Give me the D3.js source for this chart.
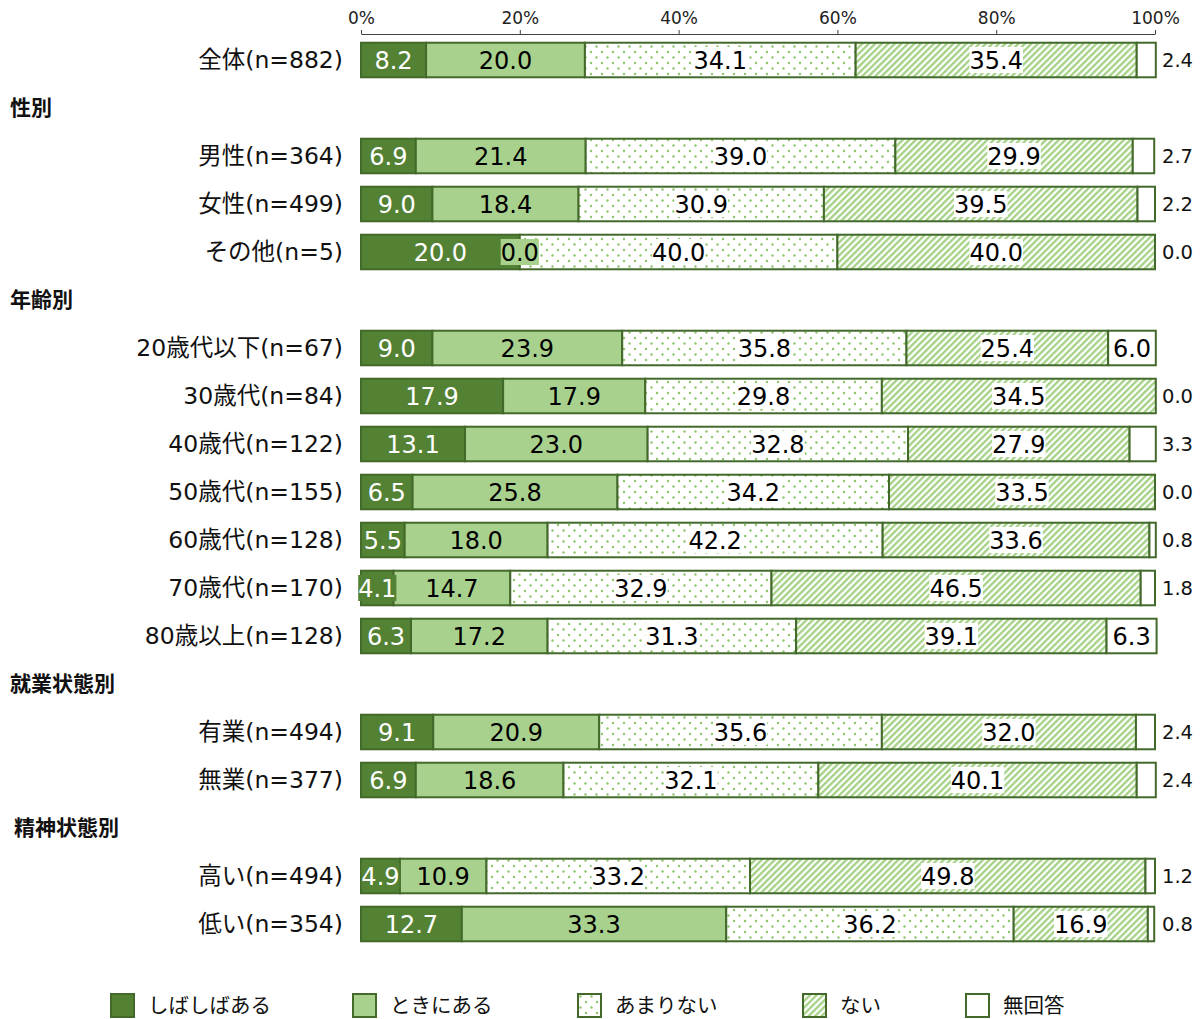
<!DOCTYPE html>
<html>
<head>
<meta charset="utf-8">
<script src="https://cdn.jsdelivr.net/npm/d3@7"></script>
<style>
  body { margin: 0; background: #fff; }
  svg { display: block; font-family: "DejaVu Sans", "Noto Sans CJK JP", sans-serif; }
</style>
</head>
<body>
<svg id="chart" width="1200" height="1019"></svg>
<script>
// slots from top to bottom, section headings included
const slotLabels = [
  '全体(n=882)',
  '性別',
  '男性(n=364)', '女性(n=499)', 'その他(n=5)',
  '年齢別',
  '20歳代以下(n=67)', '30歳代(n=84)', '40歳代(n=122)', '50歳代(n=155)',
  '60歳代(n=128)', '70歳代(n=170)', '80歳以上(n=128)',
  '就業状態別',
  '有業(n=494)', '無業(n=377)',
  '精神状態別',
  '高い(n=494)', '低い(n=354)'
]
const sectionHeaders = ['性別', '年齢別', '就業状態別', '精神状態別']

const categories = slotLabels.filter(d => !sectionHeaders.includes(d))
const shibashiba = [8.2, 6.9, 9.0, 20.0, 9.0, 17.9, 13.1, 6.5, 5.5, 4.1, 6.3, 9.1, 6.9, 4.9, 12.7]
const tokini     = [20.0, 21.4, 18.4, 0.0, 23.9, 17.9, 23.0, 25.8, 18.0, 14.7, 17.2, 20.9, 18.6, 10.9, 33.3]
const amari      = [34.1, 39.0, 30.9, 40.0, 35.8, 29.8, 32.8, 34.2, 42.2, 32.9, 31.3, 35.6, 32.1, 33.2, 36.2]
const nai        = [35.4, 29.9, 39.5, 40.0, 25.4, 34.5, 27.9, 33.5, 33.6, 46.5, 39.1, 32.0, 40.1, 49.8, 16.9]
const mukaitou   = [2.4, 2.7, 2.2, 0.0, 6.0, 0.0, 3.3, 0.0, 0.8, 1.8, 6.3, 2.4, 2.4, 1.2, 0.8]

const seriesNames = ['しばしばある', 'ときにある', 'あまりない', 'ない', '無回答']
const xTicks = [0, 20, 40, 60, 80, 100]

const DARK = '#548235'
const LIGHT = '#a9d18e'
const EDGE = '#43692b'

const keys = ['s0', 's1', 's2', 's3', 's4']
const table = categories.map((c, i) => ({
  cat: c, s0: shibashiba[i], s1: tokini[i], s2: amari[i], s3: nai[i], s4: mukaitou[i]
}))

const svg = d3.select('#chart')

// patterns
const defs = svg.append('defs')
const dots = defs.append('pattern').attr('id', 'dots')
  .attr('patternUnits', 'userSpaceOnUse').attr('width', 11).attr('height', 11)
dots.append('rect').attr('width', 11).attr('height', 11).attr('fill', '#fff')
dots.append('circle').attr('cx', 2.5).attr('cy', 2.5).attr('r', 1.2).attr('fill', '#8cc56c')
dots.append('circle').attr('cx', 8).attr('cy', 8).attr('r', 1.2).attr('fill', '#8cc56c')

const hatch = defs.append('pattern').attr('id', 'hatch')
  .attr('patternUnits', 'userSpaceOnUse').attr('width', 4.6).attr('height', 4.6)
  .attr('patternTransform', 'rotate(45)')
hatch.append('rect').attr('width', 4.6).attr('height', 4.6).attr('fill', '#fff')
hatch.append('line').attr('x1', 1.2).attr('x2', 1.2).attr('y1', 0).attr('y2', 4.6)
  .attr('stroke', '#a3d184').attr('stroke-width', 2.3)

const fills = [DARK, LIGHT, 'url(#dots)', 'url(#hatch)', '#fff']
const labelBg = [DARK, LIGHT, '#fff', '#fff', '#fff']
const labelColor = ['#fff', '#000', '#000', '#000', '#000']

const x = d3.scaleLinear().domain([0, 100]).range([361, 1155])
const y = d3.scaleBand().domain(slotLabels).range([36, 948])
  .paddingInner(0.28).paddingOuter(0.14)

// axis on top
const axis = svg.append('g')
  .attr('transform', 'translate(0,34)')
  .call(d3.axisTop(x).tickValues(xTicks).tickSize(4).tickSizeOuter(0).tickFormat(d => d + '%'))
axis.select('.domain').attr('stroke', '#404040')
axis.selectAll('.tick line').attr('stroke', '#404040')
axis.selectAll('.tick text')
  .attr('font-family', '"DejaVu Sans", sans-serif')
  .attr('font-size', 17).attr('fill', '#222').attr('dy', '-0.15em')

// section headings
svg.append('g').selectAll('text')
  .data(sectionHeaders)
  .join('text')
  .attr('x', d => d === '精神状態別' ? 14 : 10)
  .attr('y', d => y(d) + y.bandwidth() / 2)
  .attr('dy', '0.35em')
  .attr('font-size', 21).attr('font-weight', 'bold').attr('fill', '#111')
  .text(d => d)

// category labels
svg.append('g').selectAll('text')
  .data(categories)
  .join('text')
  .attr('x', 343)
  .attr('y', d => y(d) + y.bandwidth() / 2)
  .attr('dy', '0.36em')
  .attr('text-anchor', 'end')
  .attr('font-size', 23.5).attr('fill', '#111')
  .text(d => d)

const stacked = d3.stack().keys(keys)(table)

const layers = svg.append('g').selectAll('g')
  .data(stacked)
  .join('g')

layers.selectAll('rect')
  .data(d => d)
  .join('rect')
  .attr('x', d => x(d[0]))
  .attr('y', d => y(d.data.cat))
  .attr('width', d => Math.max(0, x(d[1]) - x(d[0])))
  .attr('height', y.bandwidth())
  .attr('fill', (d, i, n) => fills[keys.indexOf(d3.select(n[i].parentNode).datum().key)])
  .attr('stroke', EDGE)
  .attr('stroke-width', 2)

// value labels
const labels = svg.append('g')
stacked.forEach((layer, si) => {
  layer.forEach(d => {
    const v = d[1] - d[0]
    const cy = y(d.data.cat) + y.bandwidth() / 2
    const outside = si === 4 && v < 5
    const g = labels.append('g')
    const t = g.append('text')
      .attr('x', outside ? x(100) + 7 : (x(d[0]) + x(d[1])) / 2)
      .attr('y', cy)
      .attr('dy', '0.36em')
      .attr('text-anchor', outside ? 'start' : 'middle')
      .attr('font-size', outside ? 19.5 : 24)
      .attr('fill', outside ? '#111' : labelColor[si])
      .text(d.data[keys[si]].toFixed(1))
    if (!outside) {
      const b = t.node().getBBox()
      g.insert('rect', 'text')
        .attr('x', b.x).attr('y', cy - 13)
        .attr('width', b.width).attr('height', 26)
        .attr('fill', labelBg[si])
    }
  })
})

// legend
const legendX = [111, 353, 578, 803, 966]
const legend = svg.append('g').selectAll('g')
  .data(seriesNames)
  .join('g')
  .attr('transform', (d, i) => `translate(${legendX[i]},994)`)
legend.append('rect')
  .attr('width', 23).attr('height', 23)
  .attr('fill', (d, i) => fills[i])
  .attr('stroke', EDGE).attr('stroke-width', 2)
legend.append('text')
  .attr('x', 37).attr('y', 11.5).attr('dy', '0.36em')
  .attr('font-size', 20.5).attr('fill', '#111')
  .text(d => d)
</script>
</body>
</html>
